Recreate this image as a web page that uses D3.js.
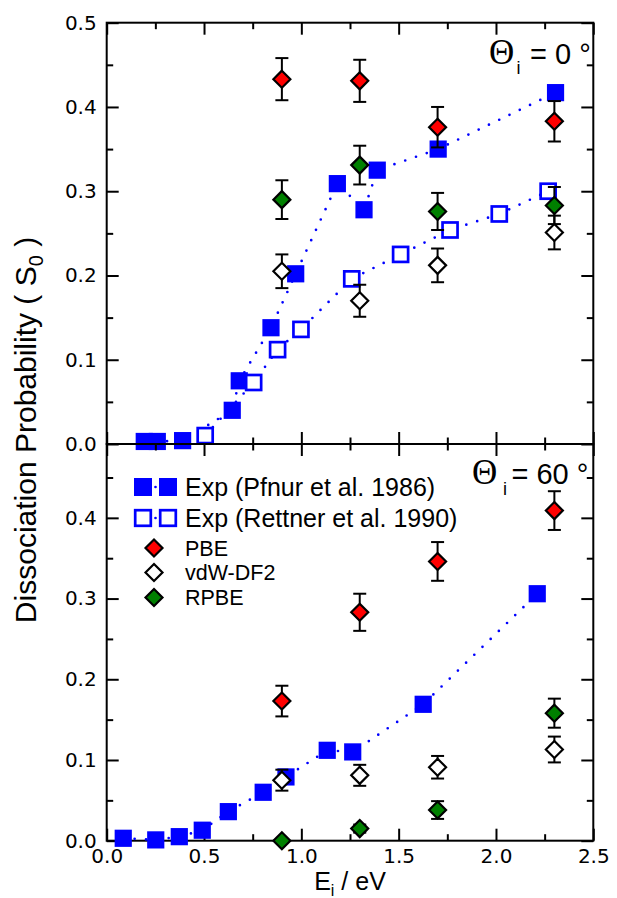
<!DOCTYPE html>
<html>
<head>
<meta charset="utf-8">
<script src="https://cdn.jsdelivr.net/npm/d3@7"></script>
<style>
  body { margin: 0; background: #fff; }
  text { font-family: "Liberation Sans", Arial, sans-serif; fill: #000; }
</style>
</head>
<body>
<div id="chart"></div>
<script>
var width_chart = 617,
    height_chart = 898;

// incidence energies of the calculations (eV)
var theory_e = [0.9, 1.3, 1.7, 2.3];

// Theta_i = 0 deg
var pfnur0_e = [0.193, 0.260, 0.390, 0.645, 0.681, 0.844, 0.971, 1.185, 1.322, 1.390, 1.703, 2.306];
var pfnur0_s = [0.003, 0.003, 0.004, 0.040, 0.075, 0.138, 0.202, 0.309, 0.278, 0.325, 0.350, 0.417];
var rettner0_e = [0.506, 0.755, 0.878, 0.998, 1.259, 1.510, 1.764, 2.017, 2.268];
var rettner0_s = [0.010, 0.073, 0.112, 0.136, 0.196, 0.225, 0.254, 0.273, 0.300];
var pbe0 = [0.433, 0.431, 0.376, 0.383];
var pbe0_err = [0.025, 0.025, 0.024, 0.024];
var vdw0 = [0.205, 0.170, 0.212, 0.251];
var vdw0_err = [0.020, 0.019, 0.020, 0.020];
var rpbe0 = [0.290, 0.331, 0.276, 0.283];
var rpbe0_err = [0.023, 0.023, 0.022, 0.022];

// Theta_i = 60 deg
var pfnur60_e = [0.085, 0.252, 0.373, 0.491, 0.625, 0.804, 0.921, 1.133, 1.264, 1.626, 2.212];
var pfnur60_s = [0.003, 0.001, 0.005, 0.013, 0.036, 0.060, 0.079, 0.112, 0.110, 0.169, 0.306];
var pbe60 = [0.173, 0.283, 0.346, 0.409];
var pbe60_err = [0.019, 0.023, 0.024, 0.024];
var vdw60 = [0.075, 0.081, 0.091, 0.113];
var vdw60_err = [0.013, 0.013, 0.014, 0.016];
var rpbe60 = [0.000, 0.015, 0.038, 0.158];
var rpbe60_err = [0.000, 0.005, 0.011, 0.018];

var x_major = [0, 0.5, 1.0, 1.5, 2.0, 2.5];
var x_minor = [0.25, 0.75, 1.25, 1.75, 2.25];
var y_major_top = [0, 0.1, 0.2, 0.3, 0.4, 0.5];
var y_major_bot = [0, 0.1, 0.2, 0.3, 0.4];
var y_minor = [0.05, 0.15, 0.25, 0.35, 0.45];

var legend_labels = ["Exp (Pfnur et al. 1986)", "Exp (Rettner et al. 1990)", "PBE", "vdW-DF2", "RPBE"];

var color_exp = "#0000ff",
    color_pbe = "#ff0000",
    color_vdw = "#ffffff",
    color_rpbe = "#008000";

var svg = d3.select("#chart").append("svg")
    .attr("width", width_chart)
    .attr("height", height_chart);

var x = d3.scaleLinear().domain([0, 2.5]).range([106.7, 593.3]);
var y_top = d3.scaleLinear().domain([0, 0.5]).range([444, 22.7]);
var y_bot = d3.scaleLinear().domain([0, 0.4915]).range([840.7, 444]);

var diamond = "M0,-8.5L8.5,0L0,8.5L-8.5,0Z";

function zip(a, b) {
	return a.map(function(v, i) { return [v, b[i]]; });
}

function draw_axes(y, y_major, show_x_labels) {
	var g = svg.append("g");
	var y0 = y.range()[0], y1 = y.range()[1];

	g.append("g").attr("transform", "translate(" + x.range()[0] + ",0)")
		.call(d3.axisLeft(y).tickValues(y_major).tickSize(-12).tickPadding(10).tickFormat(d3.format(".1f")));
	g.append("g").attr("transform", "translate(" + x.range()[0] + ",0)")
		.call(d3.axisLeft(y).tickValues(y_minor).tickSize(-6.5).tickFormat(""));
	g.append("g").attr("transform", "translate(" + x.range()[1] + ",0)")
		.call(d3.axisRight(y).tickValues(y_major).tickSize(-12).tickFormat(""));
	g.append("g").attr("transform", "translate(" + x.range()[1] + ",0)")
		.call(d3.axisRight(y).tickValues(y_minor).tickSize(-6.5).tickFormat(""));

	g.append("g").attr("transform", "translate(0," + y1 + ")")
		.call(d3.axisTop(x).tickValues(x_major).tickSize(-12).tickFormat(""));
	g.append("g").attr("transform", "translate(0," + y1 + ")")
		.call(d3.axisTop(x).tickValues(x_minor).tickSize(-6.5).tickFormat(""));
	var xb = d3.axisBottom(x).tickValues(x_major).tickSize(-12).tickPadding(8);
	if (!show_x_labels) xb.tickFormat("");
	else xb.tickFormat(d3.format(".1f"));
	g.append("g").attr("transform", "translate(0," + y0 + ")").call(xb);
	g.append("g").attr("transform", "translate(0," + y0 + ")")
		.call(d3.axisBottom(x).tickValues(x_minor).tickSize(-6.5).tickFormat(""));

	g.selectAll(".domain").remove();
	g.selectAll(".tick line").attr("stroke", "#000").attr("stroke-width", 2);
	g.selectAll(".tick text")
		.style("font-family", "'DejaVu Sans', sans-serif")
		.style("font-size", "20px")
		.attr("fill", "#000");

	g.append("rect")
		.attr("x", x.range()[0])
		.attr("y", y1)
		.attr("width", x.range()[1] - x.range()[0])
		.attr("height", y0 - y1)
		.attr("fill", "none")
		.attr("stroke", "#000")
		.attr("stroke-width", 2);
}

function draw_exp(y, es, ss) {
	var pts = zip(es, ss);
	var line = d3.line()
		.x(function(d) { return x(d[0]); })
		.y(function(d) { return y(d[1]); });
	svg.append("path")
		.datum(pts)
		.attr("d", line)
		.attr("fill", "none")
		.attr("stroke", color_exp)
		.attr("stroke-width", 2.7)
		.attr("stroke-linecap", "round")
		.attr("stroke-dasharray", "0,11.4");
	return pts;
}

function draw_squares(y, pts, filled) {
	svg.append("g").selectAll("rect")
		.data(pts)
		.enter().append("rect")
		.attr("x", function(d) { return x(d[0]) - (filled ? 8.6 : 7.5); })
		.attr("y", function(d) { return y(d[1]) - (filled ? 8.6 : 7.5); })
		.attr("width", filled ? 17.2 : 15)
		.attr("height", filled ? 17.2 : 15)
		.attr("fill", filled ? color_exp : "#fff")
		.attr("stroke", filled ? "none" : color_exp)
		.attr("stroke-width", 2.7);
}

function draw_theory(y, vals, errs, fill) {
	var pts = theory_e.map(function(e, i) { return {e: e, s: vals[i], err: errs[i]}; });
	var g = svg.append("g");
	var eb = g.selectAll("g.err")
		.data(pts.filter(function(d) { return d.err > 0; }))
		.enter().append("g").attr("class", "err");
	eb.append("line")
		.attr("x1", function(d) { return x(d.e); })
		.attr("x2", function(d) { return x(d.e); })
		.attr("y1", function(d) { return y(d.s - d.err); })
		.attr("y2", function(d) { return y(d.s + d.err); });
	eb.append("line")
		.attr("x1", function(d) { return x(d.e) - 6.5; })
		.attr("x2", function(d) { return x(d.e) + 6.5; })
		.attr("y1", function(d) { return y(d.s - d.err); })
		.attr("y2", function(d) { return y(d.s - d.err); });
	eb.append("line")
		.attr("x1", function(d) { return x(d.e) - 6.5; })
		.attr("x2", function(d) { return x(d.e) + 6.5; })
		.attr("y1", function(d) { return y(d.s + d.err); })
		.attr("y2", function(d) { return y(d.s + d.err); });
	eb.selectAll("line").attr("stroke", "#000").attr("stroke-width", 2);

	g.selectAll("path")
		.data(pts)
		.enter().append("path")
		.attr("d", diamond)
		.attr("transform", function(d) { return "translate(" + x(d.e) + "," + y(d.s) + ")"; })
		.attr("fill", fill)
		.attr("stroke", "#000")
		.attr("stroke-width", 2.2);
}

// top panel (0 deg)
draw_axes(y_top, y_major_top, false);
var p0 = draw_exp(y_top, pfnur0_e, pfnur0_s);
var r0 = draw_exp(y_top, rettner0_e, rettner0_s);
draw_squares(y_top, p0, true);
draw_squares(y_top, r0, false);
draw_theory(y_top, vdw0, vdw0_err, color_vdw);
draw_theory(y_top, pbe0, pbe0_err, color_pbe);
draw_theory(y_top, rpbe0, rpbe0_err, color_rpbe);

// bottom panel (60 deg)
draw_axes(y_bot, y_major_bot, true);
var p60 = draw_exp(y_bot, pfnur60_e, pfnur60_s);
draw_squares(y_bot, p60, true);
draw_theory(y_bot, pbe60, pbe60_err, color_pbe);
draw_theory(y_bot, vdw60, vdw60_err, color_vdw);
draw_theory(y_bot, rpbe60, rpbe60_err, color_rpbe);

// angle labels
function angle_label(x0, y0, sub_x, sub_y, eq_x, rest) {
	svg.append("text").attr("x", x0).attr("y", y0)
		.style("font-family", "'Liberation Serif', serif")
		.style("font-size", "35px")
		.text("\u0398");
	svg.append("text").attr("x", sub_x).attr("y", sub_y)
		.style("font-size", "18px")
		.text("i");
	svg.append("text").attr("x", eq_x).attr("y", y0)
		.style("font-size", "29px")
		.text(rest);
}
angle_label(489, 63.5, 516.5, 73.5, 530, "= 0 \u00b0");
angle_label(472, 483.5, 503, 495, 511.5, "= 60 \u00b0");

// legend
var leg_rows = [487, 518, 548, 572.5, 597.5];
var leg_size = [25, 25, 21.5, 21.5, 21.5];
var leg = svg.append("g");
[0, 1].forEach(function(i) {
	var yy = leg_rows[i];
	leg.append("line")
		.attr("x1", 143).attr("x2", 168).attr("y1", yy).attr("y2", yy)
		.attr("stroke", color_exp).attr("stroke-width", 2.7)
		.attr("stroke-linecap", "round").attr("stroke-dasharray", "0,12.5");
	[143, 168].forEach(function(cx) {
		if (i == 0) {
			leg.append("rect").attr("x", cx - 9).attr("y", yy - 9)
				.attr("width", 18).attr("height", 18).attr("fill", color_exp);
		} else {
			leg.append("rect").attr("x", cx - 7.8).attr("y", yy - 7.8)
				.attr("width", 15.6).attr("height", 15.6)
				.attr("fill", "#fff").attr("stroke", color_exp).attr("stroke-width", 2.7);
		}
	});
});
[color_pbe, color_vdw, color_rpbe].forEach(function(c, i) {
	leg.append("path")
		.attr("d", diamond)
		.attr("transform", "translate(154," + leg_rows[i + 2] + ")")
		.attr("fill", c).attr("stroke", "#000").attr("stroke-width", 2.2);
});
leg.selectAll("text.lab")
	.data(legend_labels)
	.enter().append("text")
	.attr("class", "lab")
	.attr("x", 185)
	.attr("y", function(d, i) { return leg_rows[i] + leg_size[i] * 0.35; })
	.style("font-size", function(d, i) { return leg_size[i] + "px"; })
	.text(function(d) { return d; });

// axis titles
var xt = svg.append("text")
	.attr("x", 350).attr("y", 890)
	.attr("text-anchor", "middle")
	.style("font-size", "25px");
xt.append("tspan").text("E");
xt.append("tspan").attr("dy", 6).style("font-size", "16px").text("i");
xt.append("tspan").attr("dy", -6).text(" / eV");

var yt = svg.append("text")
	.attr("transform", "translate(36,430) rotate(-90)")
	.attr("text-anchor", "middle")
	.style("font-size", "30px");
yt.append("tspan").text("Dissociation Probability ( S");
yt.append("tspan").attr("dy", 7).style("font-size", "20px").text("0");
yt.append("tspan").attr("dy", -7).text(" )");
</script>
</body>
</html>
